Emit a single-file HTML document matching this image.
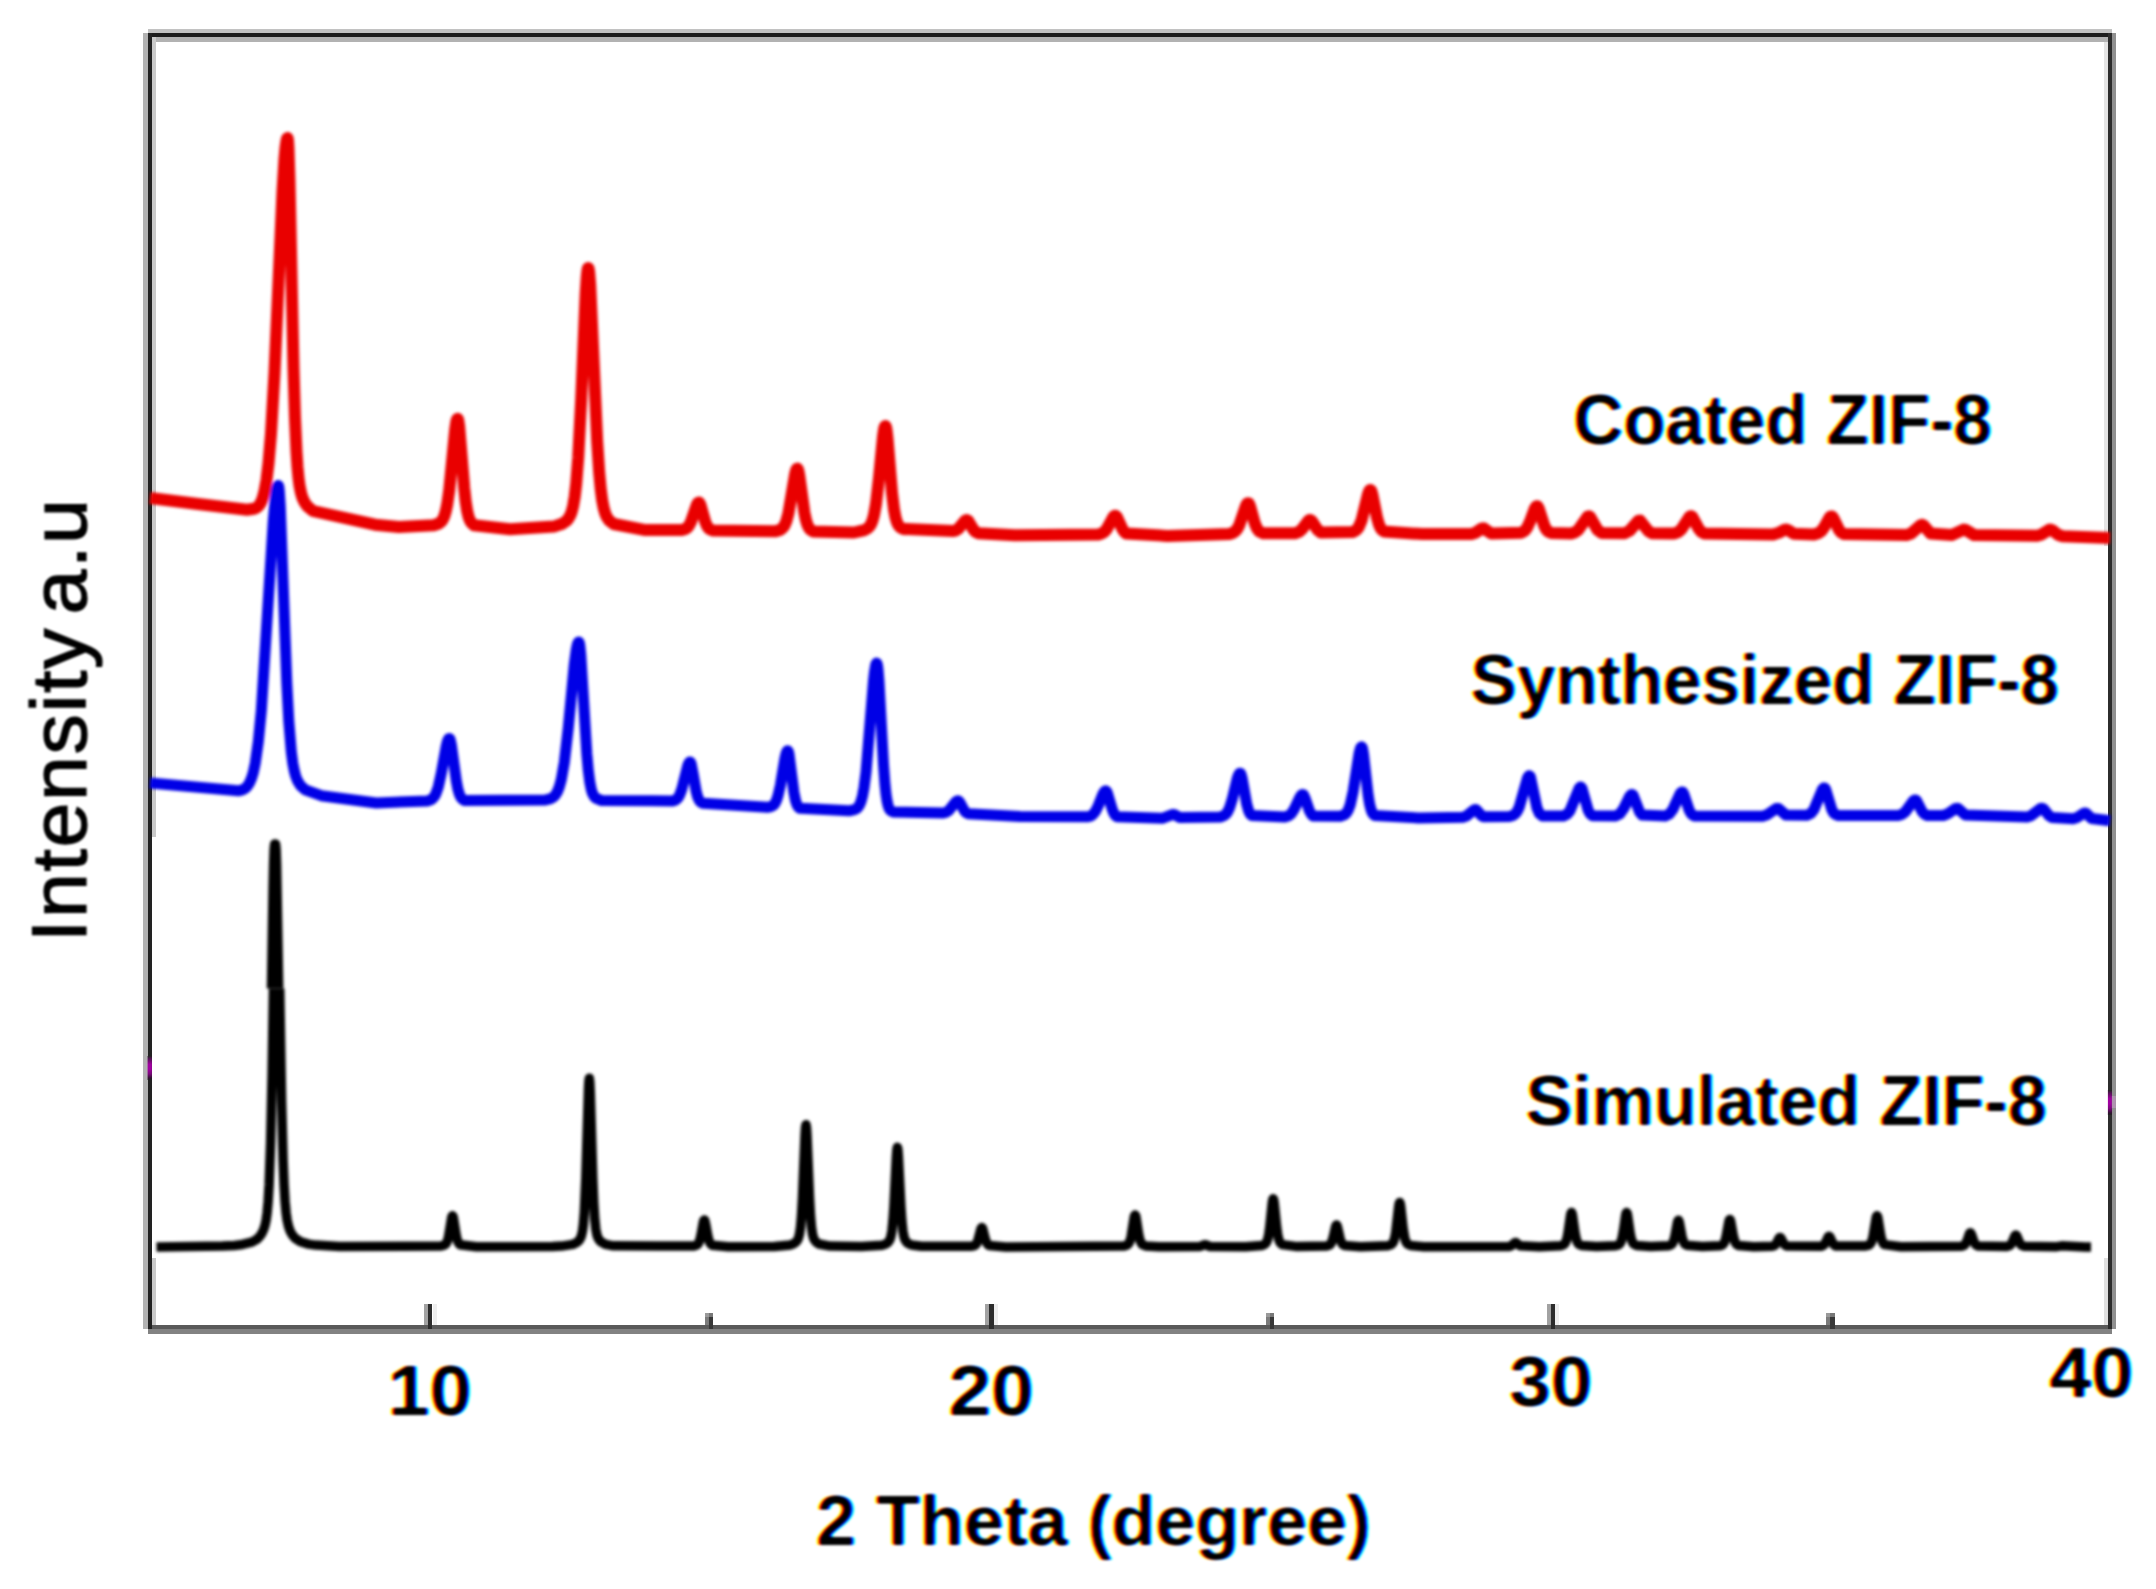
<!DOCTYPE html>
<html lang="en">
<head>
<meta charset="utf-8">
<title>XRD patterns of ZIF-8</title>
<style>
html,body{margin:0;padding:0;background:#fff;}
body{width:2156px;height:1589px;overflow:hidden;}
svg{display:block;}
text{font-family:"Liberation Sans",Arial,Helvetica,sans-serif;fill:#000;}
.b{font-weight:700;}
</style>
</head>
<body>
<svg width="2156" height="1589" viewBox="0 0 2156 1589">
<defs>
<filter id="soft" x="-2%" y="-2%" width="104%" height="104%"><feGaussianBlur stdDeviation="1.5"/></filter>
<filter id="softt" x="-5%" y="-20%" width="110%" height="140%"><feGaussianBlur stdDeviation="0.7"/></filter>
<filter id="ct" x="-3%" y="-25%" width="106%" height="150%" color-interpolation-filters="sRGB">
<feGaussianBlur in="SourceAlpha" stdDeviation="1.2" result="b"/>
<feComponentTransfer in="b" result="a"><feFuncA type="linear" slope="2.2" intercept="-0.6"/></feComponentTransfer>
<feOffset in="a" dx="1.9" dy="0" result="aR"/>
<feOffset in="a" dx="-1.9" dy="0" result="aB"/>
<feColorMatrix in="aR" type="matrix" values="0 0 0 0 0  0 0 0 0 1  0 0 0 0 1  0 0 0 1 0" result="cy"/>
<feColorMatrix in="a" type="matrix" values="0 0 0 0 1  0 0 0 0 0  0 0 0 0 1  0 0 0 1 0" result="mg"/>
<feColorMatrix in="aB" type="matrix" values="0 0 0 0 1  0 0 0 0 1  0 0 0 0 0  0 0 0 1 0" result="yl"/>
<feBlend mode="multiply" in="cy" in2="mg" result="cm"/>
<feBlend mode="multiply" in="cm" in2="yl" result="cmy"/>
<feGaussianBlur in="cmy" stdDeviation="1.1 0.8"/>
</filter>
<filter id="softy" x="-20%" y="-5%" width="140%" height="110%"><feGaussianBlur stdDeviation="1.3"/></filter>
<linearGradient id="mg1" x1="0" y1="0" x2="0" y2="1"><stop offset="0" stop-color="#222"/><stop offset="0.12" stop-color="#551055"/><stop offset="0.35" stop-color="#a000a0"/><stop offset="0.55" stop-color="#a000a0"/><stop offset="0.75" stop-color="#7a087a"/><stop offset="0.92" stop-color="#301030"/><stop offset="1" stop-color="#222"/></linearGradient>
<clipPath id="cu"><rect x="0" y="0" width="2156" height="988.5"/></clipPath>
<clipPath id="cl"><rect x="0" y="988.5" width="2156" height="600"/></clipPath>
</defs>
<rect x="0" y="0" width="2156" height="1589" fill="#fff"/>

<!-- frame -->
<g shape-rendering="crispEdges">
<rect x="147.6" y="29" width="1964.3" height="4.2" fill="#c2c2c2"/>
<rect x="152" y="37" width="1956" height="4.8" fill="#b2b2b2"/>
<rect x="143.4" y="33.2" width="4.2" height="1296.2" fill="#b2b2b2"/>
<rect x="151.9" y="37" width="3.9" height="800" fill="#cacaca"/><rect x="151.9" y="1258" width="3.9" height="67" fill="#cacaca"/>
<rect x="2103.6" y="41.8" width="4.3" height="504" fill="#e4e4e4"/><rect x="2103.6" y="1258" width="4.3" height="67" fill="#e0e0e0"/>
<rect x="2111.9" y="33.2" width="4" height="1296" fill="#909090"/>
<rect x="147.6" y="1329.4" width="1964.3" height="4.2" fill="#828282"/>
<rect x="147.6" y="1325.1" width="1964.3" height="4.3" fill="#5a5a5a"/>
<rect x="147.6" y="33.2" width="1964.3" height="3.9" fill="#1c1c1c"/>
<rect x="147.6" y="33.2" width="4.3" height="1296.2" fill="#222"/>
<rect x="2107.9" y="33.2" width="4" height="1296.2" fill="#2c2c2c"/>
</g>
<!-- curves -->
<g fill="none" stroke-linejoin="round" stroke-linecap="butt" filter="url(#soft)">
<path stroke="#e90000" stroke-width="12" d="M150.0 498.0 L198.0 504.0 L247.0 509.7 L254.0 508.8 L256.5 507.7 L258.5 506.0 L260.0 504.1 L261.5 501.2 L263.0 497.1 L264.5 491.3 L266.5 480.0 L268.5 463.5 L271.0 433.8 L274.5 373.0 L282.5 191.8 L284.5 158.9 L285.5 147.7 L286.5 140.7 L287.0 138.8 L287.5 138.0 L288.0 140.1 L288.5 148.4 L289.5 180.8 L293.5 367.7 L295.0 417.9 L296.5 451.8 L297.5 467.0 L298.5 477.8 L299.5 485.5 L301.0 493.0 L302.5 497.9 L304.5 502.2 L307.5 506.4 L313.0 511.0 L375.0 524.7 L399.0 526.9 L433.7 525.3 L438.2 523.8 L441.2 521.6 L442.7 519.6 L444.2 516.5 L445.7 511.6 L447.2 504.5 L449.2 490.7 L455.2 429.4 L456.2 422.4 L456.7 420.2 L457.2 419.0 L457.7 418.8 L458.2 419.9 L459.2 426.4 L464.2 487.8 L465.7 501.6 L467.2 511.1 L468.7 517.3 L470.2 521.0 L471.7 523.2 L474.2 525.3 L510.0 529.2 L553.7 526.6 L562.2 523.8 L566.2 521.1 L568.2 518.9 L570.2 515.5 L571.7 511.6 L573.2 505.6 L574.7 496.7 L576.2 483.7 L578.2 458.1 L581.2 399.5 L585.7 293.2 L586.7 277.6 L587.2 272.3 L587.7 269.1 L588.0 268.2 L588.2 268.0 L588.7 269.1 L589.2 272.3 L590.2 284.7 L597.2 441.4 L599.2 472.4 L600.7 488.8 L602.2 500.4 L603.7 508.2 L605.2 513.4 L606.7 516.9 L609.2 520.5 L613.7 524.0 L644.2 529.9 L681.8 529.9 L685.3 528.9 L687.3 527.6 L688.8 525.8 L690.8 522.2 L696.8 504.9 L697.8 503.1 L698.3 502.7 L699.0 502.5 L699.3 502.7 L699.8 503.4 L700.8 506.0 L705.3 522.0 L706.8 525.5 L708.3 527.9 L709.8 529.2 L713.3 530.6 L774.9 531.3 L779.4 530.2 L781.4 529.1 L783.4 527.1 L784.9 524.6 L786.4 520.9 L788.4 513.5 L795.0 474.7 L795.9 470.9 L796.4 469.6 L796.9 468.9 L797.4 468.7 L798.0 469.6 L798.4 471.0 L799.4 476.2 L804.4 512.6 L805.9 519.8 L807.4 524.7 L808.9 527.8 L810.4 529.7 L813.4 531.5 L854.0 532.5 L864.5 530.1 L867.5 528.4 L869.5 526.5 L871.0 524.1 L872.5 520.5 L874.0 515.0 L876.0 503.9 L879.0 478.0 L883.0 436.6 L884.0 429.7 L884.5 427.5 L885.0 426.3 L885.5 426.1 L886.0 427.2 L886.5 429.7 L887.5 438.2 L892.0 492.7 L894.0 509.4 L895.5 517.4 L897.0 522.4 L898.5 525.4 L900.0 527.1 L903.0 528.9 L952.8 531.1 L955.8 530.4 L958.3 528.8 L964.8 521.0 L966.0 520.1 L966.8 520.0 L967.3 520.2 L968.3 521.0 L973.3 529.4 L975.3 531.6 L978.3 533.2 L1014.8 535.3 L1098.4 534.5 L1101.9 533.4 L1104.4 531.7 L1107.0 528.7 L1113.0 517.6 L1113.9 516.4 L1114.9 515.7 L1115.4 515.7 L1116.0 516.0 L1116.9 517.1 L1122.4 529.1 L1124.4 531.9 L1126.4 533.6 L1167.4 535.9 L1229.2 534.0 L1233.2 532.7 L1235.2 531.3 L1237.2 529.0 L1239.2 525.4 L1245.7 506.4 L1246.7 504.3 L1247.2 503.7 L1248.0 503.2 L1248.2 503.2 L1248.7 503.5 L1249.2 504.3 L1250.2 506.8 L1254.7 523.0 L1257.2 528.8 L1259.3 531.4 L1263.3 533.3 L1294.8 533.3 L1299.3 531.6 L1302.3 528.8 L1308.3 520.9 L1309.3 520.2 L1310.3 520.0 L1311.3 520.5 L1312.8 522.4 L1317.3 529.5 L1321.0 532.5 L1352.5 532.1 L1356.0 530.4 L1358.5 527.5 L1361.5 520.6 L1368.0 494.3 L1369.0 491.5 L1369.5 490.6 L1370.0 490.1 L1370.5 490.0 L1371.0 490.5 L1371.5 491.5 L1372.5 495.1 L1377.0 517.7 L1379.0 524.6 L1380.5 527.9 L1382.0 530.0 L1384.0 531.5 L1422.5 534.1 L1471.4 534.0 L1475.4 532.8 L1481.4 528.7 L1482.9 528.3 L1483.9 528.5 L1491.4 533.6 L1521.4 532.7 L1524.9 530.6 L1527.1 527.7 L1530.1 521.3 L1534.6 509.0 L1536.1 506.6 L1536.6 506.3 L1537.1 506.2 L1537.6 506.5 L1538.6 508.2 L1544.1 525.2 L1546.1 529.2 L1548.1 531.5 L1551.1 532.9 L1571.1 533.4 L1575.1 532.2 L1578.1 530.1 L1587.6 516.6 L1589.1 516.3 L1590.1 516.9 L1597.6 530.0 L1601.6 532.9 L1624.6 533.3 L1629.6 530.7 L1638.4 520.8 L1640.1 520.6 L1648.4 531.1 L1651.9 533.2 L1674.4 533.5 L1678.4 531.9 L1681.4 529.2 L1689.4 517.0 L1690.4 516.3 L1691.4 516.3 L1692.4 517.0 L1698.8 528.9 L1701.3 531.8 L1704.3 533.5 L1773.1 534.5 L1779.1 532.6 L1784.1 530.0 L1786.1 529.6 L1788.1 530.2 L1794.1 533.8 L1814.1 534.4 L1818.1 533.3 L1821.1 531.3 L1824.1 527.3 L1829.1 518.3 L1830.1 517.0 L1831.1 516.4 L1831.6 516.4 L1832.1 516.6 L1833.1 517.7 L1839.1 530.0 L1841.1 532.4 L1843.6 533.9 L1906.6 535.0 L1911.1 533.6 L1920.6 525.2 L1922.1 524.8 L1923.6 525.6 L1930.6 533.4 L1952.1 534.9 L1963.6 529.6 L1965.6 529.9 L1974.1 535.0 L2037.1 535.7 L2041.6 534.4 L2049.1 529.8 L2050.6 529.6 L2052.1 530.1 L2058.1 534.7 L2062.6 536.2 L2110.0 538.0"/>
<path stroke="#0000e6" stroke-width="11" d="M150.0 783.0 L238.3 790.8 L242.3 789.9 L245.3 788.2 L247.3 786.3 L249.3 783.3 L251.3 778.8 L253.3 772.3 L255.3 762.8 L258.3 741.8 L261.3 710.8 L273.3 520.8 L275.3 498.8 L276.3 491.4 L276.8 488.8 L277.3 487.0 L277.8 485.9 L278.3 485.5 L278.8 486.9 L279.3 491.1 L280.3 506.9 L286.8 683.1 L288.8 721.2 L291.3 751.8 L292.8 763.2 L294.3 771.0 L295.8 776.5 L297.8 781.3 L300.8 785.9 L305.3 789.9 L321.3 795.7 L376.3 803.0 L427.3 800.9 L430.8 799.8 L432.8 798.3 L434.3 796.5 L435.8 793.8 L438.3 786.8 L441.3 773.3 L446.3 745.8 L447.3 741.9 L448.3 739.4 L448.8 738.7 L449.3 738.5 L449.8 738.9 L450.3 740.1 L451.3 744.6 L456.3 780.8 L457.8 788.7 L459.3 794.0 L460.8 797.3 L462.3 799.1 L464.3 800.4 L545.3 800.0 L550.8 798.6 L553.3 797.1 L555.3 795.1 L557.3 791.9 L559.3 786.9 L561.3 779.5 L564.3 762.5 L568.3 727.6 L574.3 664.3 L576.3 649.3 L577.3 644.7 L577.8 643.2 L578.3 642.3 L578.8 642.0 L579.0 642.1 L579.3 642.9 L579.8 645.4 L580.8 655.0 L586.8 753.4 L588.3 770.4 L589.8 782.1 L591.3 789.6 L592.3 792.9 L594.3 796.7 L595.8 798.2 L601.8 800.6 L672.7 800.9 L675.2 800.2 L676.7 799.2 L678.2 797.5 L679.7 794.8 L681.7 789.5 L687.7 765.8 L688.7 763.3 L689.2 762.5 L689.7 762.1 L690.2 762.1 L690.7 762.7 L691.2 764.1 L693.2 774.4 L696.2 791.5 L697.7 797.0 L699.2 800.3 L700.7 802.0 L702.7 803.2 L767.4 807.3 L771.4 806.4 L773.4 805.2 L774.9 803.4 L776.4 800.5 L777.9 796.1 L780.4 785.1 L784.9 758.5 L786.0 753.7 L786.9 751.4 L787.4 750.8 L787.9 750.8 L788.4 751.7 L789.0 754.3 L793.9 792.2 L795.4 799.9 L796.4 803.3 L797.4 805.6 L798.4 807.0 L799.9 808.3 L849.0 810.8 L854.5 809.7 L856.5 808.7 L858.0 807.3 L859.5 805.0 L861.0 801.4 L862.5 795.8 L864.0 787.8 L866.0 772.2 L873.5 680.9 L874.5 671.9 L875.5 665.8 L876.0 664.0 L876.5 663.2 L877.0 663.4 L877.5 665.5 L878.0 669.3 L879.0 681.7 L883.5 764.5 L885.0 784.6 L886.0 794.1 L887.0 800.8 L888.0 805.3 L889.0 808.2 L890.0 809.9 L891.0 810.9 L893.0 811.9 L943.2 813.0 L946.2 812.2 L948.7 810.6 L955.7 802.0 L957.2 800.9 L958.2 800.8 L958.7 801.0 L960.2 803.0 L964.2 810.5 L966.2 812.7 L968.2 813.8 L1020.0 816.6 L1087.8 816.8 L1090.8 815.9 L1092.8 814.6 L1095.3 811.6 L1098.3 805.6 L1102.8 794.3 L1104.3 791.7 L1105.3 790.9 L1105.8 790.8 L1106.3 791.0 L1107.3 792.7 L1112.3 809.5 L1113.8 813.1 L1115.3 815.4 L1116.8 816.7 L1162.2 818.3 L1172.2 814.6 L1173.7 814.5 L1175.2 815.0 L1179.7 817.6 L1220.1 817.0 L1224.1 815.6 L1226.1 813.9 L1227.6 811.9 L1229.6 807.7 L1232.1 799.7 L1237.1 779.0 L1238.1 775.9 L1239.1 773.9 L1239.6 773.4 L1240.1 773.2 L1240.6 773.5 L1241.1 774.6 L1242.1 778.3 L1246.7 804.0 L1248.7 811.0 L1250.2 814.0 L1251.7 815.6 L1284.7 817.1 L1288.7 815.8 L1291.2 813.8 L1294.2 809.3 L1299.7 797.5 L1301.2 795.3 L1302.2 794.6 L1302.7 794.5 L1303.2 794.7 L1303.7 795.2 L1305.2 798.5 L1309.2 810.3 L1311.2 814.0 L1313.2 816.0 L1340.2 816.3 L1344.2 814.9 L1346.2 813.3 L1348.2 810.1 L1350.2 804.8 L1353.2 791.2 L1359.1 753.4 L1360.1 749.4 L1360.6 748.0 L1361.1 747.2 L1361.6 746.9 L1362.1 747.4 L1362.6 749.0 L1363.6 755.0 L1368.1 795.0 L1369.6 804.1 L1371.1 809.9 L1372.1 812.4 L1373.1 814.0 L1374.6 815.4 L1419.0 818.0 L1462.8 817.3 L1466.3 816.1 L1473.9 810.0 L1475.4 809.5 L1476.4 809.8 L1481.4 815.5 L1483.4 816.7 L1509.9 816.4 L1513.4 815.2 L1515.4 813.7 L1517.4 811.0 L1519.4 806.6 L1527.4 778.2 L1528.4 776.4 L1529.2 775.7 L1529.7 775.8 L1530.4 777.0 L1536.9 807.7 L1539.4 813.5 L1542.4 815.9 L1563.4 816.0 L1566.9 814.3 L1569.9 810.8 L1579.2 788.1 L1580.5 787.0 L1581.0 787.1 L1582.0 788.5 L1588.2 810.3 L1590.2 813.9 L1592.7 815.8 L1615.7 816.0 L1619.7 813.9 L1623.7 808.5 L1629.7 796.3 L1631.2 794.7 L1632.2 794.5 L1633.2 795.5 L1639.7 812.2 L1642.2 815.1 L1665.2 816.0 L1669.2 814.1 L1672.7 809.7 L1680.2 793.5 L1681.7 792.1 L1682.2 792.0 L1682.7 792.2 L1683.7 793.7 L1689.2 810.2 L1690.7 813.0 L1692.2 814.8 L1694.2 815.9 L1762.6 816.2 L1767.1 814.8 L1776.3 808.5 L1778.3 808.4 L1785.8 815.0 L1807.3 815.2 L1810.8 813.4 L1813.8 809.8 L1822.3 789.6 L1823.8 788.0 L1824.3 787.9 L1824.8 788.1 L1825.8 789.8 L1831.8 809.7 L1833.8 813.1 L1835.3 814.4 L1838.3 815.5 L1898.2 815.4 L1902.2 814.2 L1905.2 811.9 L1913.2 800.9 L1914.7 800.0 L1915.7 800.0 L1916.7 801.0 L1922.2 811.7 L1924.2 814.0 L1927.2 815.4 L1943.2 815.5 L1948.2 813.6 L1955.2 808.7 L1957.2 808.3 L1958.2 808.6 L1965.2 814.9 L2027.1 816.9 L2031.1 815.7 L2040.1 808.8 L2041.6 808.3 L2042.6 808.4 L2043.6 809.0 L2049.1 815.7 L2052.1 817.6 L2073.1 818.7 L2077.1 817.5 L2083.6 813.3 L2085.1 813.0 L2086.1 813.3 L2091.6 818.5 L2110.0 820.7"/>
<g clip-path="url(#cl)"><path stroke="#000" stroke-width="9.5" d="M156.5 1247.0 L222.5 1246.1 L234.5 1245.4 L240.5 1244.8 L252.6 1241.8 L257.1 1239.1 L260.1 1236.0 L262.1 1232.9 L263.6 1229.6 L265.1 1224.8 L266.1 1220.0 L267.1 1212.8 L268.1 1201.9 L269.1 1185.0 L270.6 1142.9 L272.1 1074.5 L275.1 887.9 L275.6 864.7 L276.1 849.6 L276.6 844.4 L277.1 849.6 L277.6 864.7 L281.6 1100.4 L283.1 1159.6 L284.1 1185.0 L285.1 1201.9 L286.1 1212.8 L287.1 1220.0 L288.6 1226.7 L290.1 1230.9 L292.1 1234.6 L295.1 1238.2 L300.6 1241.8 L308.6 1244.1 L315.5 1245.1 L339.5 1246.4 L441.0 1246.0 L444.0 1245.2 L445.5 1244.3 L446.5 1242.9 L447.5 1240.6 L448.5 1236.8 L451.5 1218.5 L452.0 1216.5 L452.5 1215.8 L453.0 1216.5 L453.5 1218.5 L456.0 1234.3 L457.0 1238.9 L458.0 1241.9 L459.0 1243.7 L460.0 1244.7 L476.5 1246.8 L552.5 1246.6 L561.5 1246.1 L572.8 1244.4 L576.8 1242.5 L578.8 1240.7 L580.3 1238.5 L581.3 1236.1 L582.5 1231.0 L583.3 1225.0 L584.3 1212.5 L585.8 1178.5 L588.5 1088.0 L588.8 1082.2 L589.3 1078.3 L589.8 1082.2 L590.3 1093.0 L592.8 1178.5 L593.8 1203.4 L594.8 1219.6 L595.8 1229.0 L596.8 1234.4 L597.8 1237.4 L599.3 1240.1 L601.3 1242.1 L605.8 1244.4 L613.3 1245.8 L693.8 1246.0 L696.8 1245.0 L697.8 1244.1 L698.8 1242.6 L699.8 1240.0 L700.8 1236.0 L703.3 1222.3 L703.8 1220.6 L704.3 1219.9 L704.8 1220.6 L705.8 1224.8 L707.8 1236.0 L708.8 1240.0 L709.8 1242.6 L710.8 1244.1 L712.3 1245.3 L728.3 1246.8 L774.5 1246.5 L790.5 1244.9 L794.0 1243.5 L796.0 1242.0 L797.5 1240.1 L798.5 1237.8 L799.5 1234.0 L800.5 1227.1 L801.5 1215.4 L802.5 1197.4 L805.0 1135.4 L805.5 1127.6 L806.0 1124.8 L806.5 1127.6 L807.0 1135.4 L809.5 1197.3 L810.5 1215.4 L811.5 1227.1 L812.5 1234.0 L813.5 1237.8 L814.5 1240.0 L816.0 1242.0 L819.0 1244.0 L830.0 1246.1 L861.5 1246.6 L881.9 1245.2 L885.9 1243.9 L887.9 1242.5 L888.9 1241.3 L889.9 1239.5 L890.9 1236.4 L891.9 1230.8 L892.9 1221.2 L893.9 1206.5 L896.4 1156.0 L896.9 1149.6 L897.4 1147.3 L897.9 1149.6 L898.4 1156.0 L900.9 1206.5 L901.9 1221.2 L902.9 1230.8 L903.9 1236.4 L904.9 1239.5 L905.9 1241.3 L907.4 1242.9 L911.4 1244.9 L921.5 1246.3 L971.8 1246.2 L974.3 1245.6 L975.8 1244.5 L976.8 1243.0 L977.8 1240.7 L980.8 1229.2 L981.5 1227.7 L981.8 1227.6 L982.3 1228.0 L982.8 1229.2 L985.3 1239.1 L986.3 1242.0 L987.8 1244.5 L989.3 1245.6 L1005.8 1246.9 L1123.6 1246.1 L1126.6 1245.2 L1128.1 1244.2 L1129.1 1242.9 L1130.1 1240.5 L1131.1 1236.6 L1134.1 1217.7 L1134.6 1215.7 L1135.1 1215.0 L1135.6 1215.7 L1136.1 1217.7 L1138.6 1234.0 L1139.6 1238.8 L1140.6 1241.8 L1141.6 1243.6 L1142.6 1244.7 L1145.6 1245.9 L1159.1 1246.8 L1199.5 1246.6 L1204.5 1244.8 L1205.5 1244.8 L1210.0 1246.5 L1245.5 1246.8 L1261.7 1245.5 L1264.2 1244.6 L1265.7 1243.4 L1266.7 1241.9 L1267.7 1239.2 L1268.7 1234.5 L1269.7 1227.4 L1272.2 1203.0 L1272.7 1199.9 L1273.2 1198.8 L1273.7 1199.9 L1274.2 1203.0 L1276.7 1227.4 L1277.7 1234.5 L1278.7 1239.2 L1279.7 1241.9 L1280.7 1243.4 L1282.2 1244.6 L1297.2 1246.6 L1326.5 1246.1 L1329.0 1245.3 L1330.0 1244.6 L1331.0 1243.4 L1332.0 1241.3 L1333.5 1236.0 L1335.5 1227.0 L1336.0 1225.6 L1336.5 1225.0 L1337.0 1225.6 L1337.5 1227.0 L1340.0 1238.1 L1341.0 1241.3 L1342.0 1243.4 L1343.0 1244.6 L1344.5 1245.5 L1360.5 1246.8 L1387.7 1245.7 L1390.7 1244.8 L1392.7 1243.1 L1393.7 1241.2 L1394.7 1237.9 L1395.7 1232.5 L1398.7 1206.3 L1399.2 1203.5 L1399.7 1202.4 L1400.2 1203.5 L1400.7 1206.3 L1403.2 1228.9 L1404.7 1237.9 L1405.7 1241.2 L1406.7 1243.1 L1407.7 1244.1 L1410.7 1245.5 L1423.7 1246.7 L1509.1 1246.5 L1511.1 1245.8 L1514.6 1242.9 L1515.6 1242.5 L1516.1 1242.7 L1520.1 1245.8 L1539.6 1246.8 L1560.5 1245.8 L1563.0 1245.0 L1564.0 1244.4 L1565.0 1243.3 L1566.0 1241.4 L1567.0 1238.1 L1568.0 1233.0 L1570.5 1215.5 L1571.0 1213.2 L1571.5 1212.4 L1572.0 1213.2 L1572.5 1215.5 L1575.0 1232.9 L1576.0 1238.0 L1577.0 1241.3 L1578.0 1243.3 L1579.0 1244.4 L1581.5 1245.5 L1596.5 1246.6 L1615.6 1245.7 L1618.1 1245.0 L1619.1 1244.3 L1620.1 1243.3 L1621.1 1241.3 L1622.1 1238.0 L1623.6 1229.7 L1625.6 1215.5 L1626.1 1213.2 L1626.6 1212.5 L1627.1 1213.2 L1627.6 1215.5 L1630.1 1232.9 L1631.1 1238.0 L1632.1 1241.3 L1633.1 1243.2 L1634.1 1244.3 L1636.6 1245.5 L1650.6 1246.6 L1668.9 1245.7 L1670.9 1244.9 L1671.9 1244.1 L1672.9 1242.6 L1673.9 1240.0 L1674.9 1236.1 L1677.5 1222.2 L1677.9 1220.9 L1678.4 1220.2 L1678.9 1220.9 L1679.4 1222.6 L1681.9 1236.1 L1682.9 1240.0 L1683.9 1242.6 L1684.9 1244.1 L1686.5 1245.2 L1702.4 1246.6 L1719.8 1245.8 L1721.8 1245.2 L1722.8 1244.5 L1723.8 1243.3 L1724.8 1241.3 L1725.8 1238.0 L1728.8 1221.8 L1729.3 1220.1 L1729.8 1219.5 L1730.3 1220.1 L1730.8 1221.8 L1733.3 1235.8 L1734.8 1241.3 L1735.8 1243.4 L1736.8 1244.5 L1738.8 1245.6 L1753.8 1246.7 L1772.0 1246.3 L1774.0 1245.7 L1775.0 1245.0 L1776.5 1243.1 L1779.0 1238.3 L1779.5 1237.7 L1780.0 1237.5 L1780.5 1237.7 L1781.5 1239.2 L1783.5 1243.1 L1785.0 1245.0 L1786.5 1245.9 L1820.5 1246.3 L1822.5 1245.8 L1823.5 1245.2 L1824.5 1244.2 L1826.0 1241.6 L1828.0 1237.2 L1828.5 1236.5 L1829.0 1236.2 L1829.5 1236.5 L1830.5 1238.2 L1832.5 1242.6 L1833.5 1244.2 L1834.5 1245.2 L1836.0 1246.0 L1865.5 1246.0 L1868.5 1245.2 L1870.0 1244.2 L1871.0 1242.9 L1872.0 1240.6 L1873.0 1236.8 L1876.0 1218.5 L1876.5 1216.5 L1877.0 1215.8 L1877.5 1216.5 L1878.0 1218.5 L1880.5 1234.3 L1881.5 1238.9 L1882.5 1241.9 L1883.5 1243.7 L1884.5 1244.6 L1901.0 1246.8 L1961.3 1246.3 L1963.3 1245.7 L1964.3 1245.1 L1965.8 1243.3 L1967.3 1239.9 L1969.3 1234.0 L1969.8 1233.1 L1970.3 1232.8 L1970.8 1233.1 L1971.8 1235.3 L1973.8 1241.2 L1974.8 1243.3 L1975.8 1244.7 L1977.8 1245.9 L2006.8 1246.4 L2009.3 1245.7 L2010.8 1244.5 L2011.8 1243.1 L2014.8 1236.1 L2015.3 1235.3 L2015.8 1235.0 L2016.3 1235.3 L2016.8 1236.1 L2019.8 1243.1 L2020.8 1244.5 L2021.8 1245.4 L2024.3 1246.3 L2056.7 1246.7 L2061.7 1245.8 L2085.5 1247.0 L2091.0 1247.0"/></g>
<g clip-path="url(#cu)"><path stroke="#000" stroke-width="10.5" transform="translate(-1.5,0)" d="M156.5 1247.0 L222.5 1246.1 L234.5 1245.4 L240.5 1244.8 L252.6 1241.8 L257.1 1239.1 L260.1 1236.0 L262.1 1232.9 L263.6 1229.6 L265.1 1224.8 L266.1 1220.0 L267.1 1212.8 L268.1 1201.9 L269.1 1185.0 L270.6 1142.9 L272.1 1074.5 L275.1 887.9 L275.6 864.7 L276.1 849.6 L276.6 844.4 L277.1 849.6 L277.6 864.7 L281.6 1100.4 L283.1 1159.6 L284.1 1185.0 L285.1 1201.9 L286.1 1212.8 L287.1 1220.0 L288.6 1226.7 L290.1 1230.9 L292.1 1234.6 L295.1 1238.2 L300.6 1241.8 L308.6 1244.1 L315.5 1245.1 L339.5 1246.4 L441.0 1246.0 L444.0 1245.2 L445.5 1244.3 L446.5 1242.9 L447.5 1240.6 L448.5 1236.8 L451.5 1218.5 L452.0 1216.5 L452.5 1215.8 L453.0 1216.5 L453.5 1218.5 L456.0 1234.3 L457.0 1238.9 L458.0 1241.9 L459.0 1243.7 L460.0 1244.7 L476.5 1246.8 L552.5 1246.6 L561.5 1246.1 L572.8 1244.4 L576.8 1242.5 L578.8 1240.7 L580.3 1238.5 L581.3 1236.1 L582.5 1231.0 L583.3 1225.0 L584.3 1212.5 L585.8 1178.5 L588.5 1088.0 L588.8 1082.2 L589.3 1078.3 L589.8 1082.2 L590.3 1093.0 L592.8 1178.5 L593.8 1203.4 L594.8 1219.6 L595.8 1229.0 L596.8 1234.4 L597.8 1237.4 L599.3 1240.1 L601.3 1242.1 L605.8 1244.4 L613.3 1245.8 L693.8 1246.0 L696.8 1245.0 L697.8 1244.1 L698.8 1242.6 L699.8 1240.0 L700.8 1236.0 L703.3 1222.3 L703.8 1220.6 L704.3 1219.9 L704.8 1220.6 L705.8 1224.8 L707.8 1236.0 L708.8 1240.0 L709.8 1242.6 L710.8 1244.1 L712.3 1245.3 L728.3 1246.8 L774.5 1246.5 L790.5 1244.9 L794.0 1243.5 L796.0 1242.0 L797.5 1240.1 L798.5 1237.8 L799.5 1234.0 L800.5 1227.1 L801.5 1215.4 L802.5 1197.4 L805.0 1135.4 L805.5 1127.6 L806.0 1124.8 L806.5 1127.6 L807.0 1135.4 L809.5 1197.3 L810.5 1215.4 L811.5 1227.1 L812.5 1234.0 L813.5 1237.8 L814.5 1240.0 L816.0 1242.0 L819.0 1244.0 L830.0 1246.1 L861.5 1246.6 L881.9 1245.2 L885.9 1243.9 L887.9 1242.5 L888.9 1241.3 L889.9 1239.5 L890.9 1236.4 L891.9 1230.8 L892.9 1221.2 L893.9 1206.5 L896.4 1156.0 L896.9 1149.6 L897.4 1147.3 L897.9 1149.6 L898.4 1156.0 L900.9 1206.5 L901.9 1221.2 L902.9 1230.8 L903.9 1236.4 L904.9 1239.5 L905.9 1241.3 L907.4 1242.9 L911.4 1244.9 L921.5 1246.3 L971.8 1246.2 L974.3 1245.6 L975.8 1244.5 L976.8 1243.0 L977.8 1240.7 L980.8 1229.2 L981.5 1227.7 L981.8 1227.6 L982.3 1228.0 L982.8 1229.2 L985.3 1239.1 L986.3 1242.0 L987.8 1244.5 L989.3 1245.6 L1005.8 1246.9 L1123.6 1246.1 L1126.6 1245.2 L1128.1 1244.2 L1129.1 1242.9 L1130.1 1240.5 L1131.1 1236.6 L1134.1 1217.7 L1134.6 1215.7 L1135.1 1215.0 L1135.6 1215.7 L1136.1 1217.7 L1138.6 1234.0 L1139.6 1238.8 L1140.6 1241.8 L1141.6 1243.6 L1142.6 1244.7 L1145.6 1245.9 L1159.1 1246.8 L1199.5 1246.6 L1204.5 1244.8 L1205.5 1244.8 L1210.0 1246.5 L1245.5 1246.8 L1261.7 1245.5 L1264.2 1244.6 L1265.7 1243.4 L1266.7 1241.9 L1267.7 1239.2 L1268.7 1234.5 L1269.7 1227.4 L1272.2 1203.0 L1272.7 1199.9 L1273.2 1198.8 L1273.7 1199.9 L1274.2 1203.0 L1276.7 1227.4 L1277.7 1234.5 L1278.7 1239.2 L1279.7 1241.9 L1280.7 1243.4 L1282.2 1244.6 L1297.2 1246.6 L1326.5 1246.1 L1329.0 1245.3 L1330.0 1244.6 L1331.0 1243.4 L1332.0 1241.3 L1333.5 1236.0 L1335.5 1227.0 L1336.0 1225.6 L1336.5 1225.0 L1337.0 1225.6 L1337.5 1227.0 L1340.0 1238.1 L1341.0 1241.3 L1342.0 1243.4 L1343.0 1244.6 L1344.5 1245.5 L1360.5 1246.8 L1387.7 1245.7 L1390.7 1244.8 L1392.7 1243.1 L1393.7 1241.2 L1394.7 1237.9 L1395.7 1232.5 L1398.7 1206.3 L1399.2 1203.5 L1399.7 1202.4 L1400.2 1203.5 L1400.7 1206.3 L1403.2 1228.9 L1404.7 1237.9 L1405.7 1241.2 L1406.7 1243.1 L1407.7 1244.1 L1410.7 1245.5 L1423.7 1246.7 L1509.1 1246.5 L1511.1 1245.8 L1514.6 1242.9 L1515.6 1242.5 L1516.1 1242.7 L1520.1 1245.8 L1539.6 1246.8 L1560.5 1245.8 L1563.0 1245.0 L1564.0 1244.4 L1565.0 1243.3 L1566.0 1241.4 L1567.0 1238.1 L1568.0 1233.0 L1570.5 1215.5 L1571.0 1213.2 L1571.5 1212.4 L1572.0 1213.2 L1572.5 1215.5 L1575.0 1232.9 L1576.0 1238.0 L1577.0 1241.3 L1578.0 1243.3 L1579.0 1244.4 L1581.5 1245.5 L1596.5 1246.6 L1615.6 1245.7 L1618.1 1245.0 L1619.1 1244.3 L1620.1 1243.3 L1621.1 1241.3 L1622.1 1238.0 L1623.6 1229.7 L1625.6 1215.5 L1626.1 1213.2 L1626.6 1212.5 L1627.1 1213.2 L1627.6 1215.5 L1630.1 1232.9 L1631.1 1238.0 L1632.1 1241.3 L1633.1 1243.2 L1634.1 1244.3 L1636.6 1245.5 L1650.6 1246.6 L1668.9 1245.7 L1670.9 1244.9 L1671.9 1244.1 L1672.9 1242.6 L1673.9 1240.0 L1674.9 1236.1 L1677.5 1222.2 L1677.9 1220.9 L1678.4 1220.2 L1678.9 1220.9 L1679.4 1222.6 L1681.9 1236.1 L1682.9 1240.0 L1683.9 1242.6 L1684.9 1244.1 L1686.5 1245.2 L1702.4 1246.6 L1719.8 1245.8 L1721.8 1245.2 L1722.8 1244.5 L1723.8 1243.3 L1724.8 1241.3 L1725.8 1238.0 L1728.8 1221.8 L1729.3 1220.1 L1729.8 1219.5 L1730.3 1220.1 L1730.8 1221.8 L1733.3 1235.8 L1734.8 1241.3 L1735.8 1243.4 L1736.8 1244.5 L1738.8 1245.6 L1753.8 1246.7 L1772.0 1246.3 L1774.0 1245.7 L1775.0 1245.0 L1776.5 1243.1 L1779.0 1238.3 L1779.5 1237.7 L1780.0 1237.5 L1780.5 1237.7 L1781.5 1239.2 L1783.5 1243.1 L1785.0 1245.0 L1786.5 1245.9 L1820.5 1246.3 L1822.5 1245.8 L1823.5 1245.2 L1824.5 1244.2 L1826.0 1241.6 L1828.0 1237.2 L1828.5 1236.5 L1829.0 1236.2 L1829.5 1236.5 L1830.5 1238.2 L1832.5 1242.6 L1833.5 1244.2 L1834.5 1245.2 L1836.0 1246.0 L1865.5 1246.0 L1868.5 1245.2 L1870.0 1244.2 L1871.0 1242.9 L1872.0 1240.6 L1873.0 1236.8 L1876.0 1218.5 L1876.5 1216.5 L1877.0 1215.8 L1877.5 1216.5 L1878.0 1218.5 L1880.5 1234.3 L1881.5 1238.9 L1882.5 1241.9 L1883.5 1243.7 L1884.5 1244.6 L1901.0 1246.8 L1961.3 1246.3 L1963.3 1245.7 L1964.3 1245.1 L1965.8 1243.3 L1967.3 1239.9 L1969.3 1234.0 L1969.8 1233.1 L1970.3 1232.8 L1970.8 1233.1 L1971.8 1235.3 L1973.8 1241.2 L1974.8 1243.3 L1975.8 1244.7 L1977.8 1245.9 L2006.8 1246.4 L2009.3 1245.7 L2010.8 1244.5 L2011.8 1243.1 L2014.8 1236.1 L2015.3 1235.3 L2015.8 1235.0 L2016.3 1235.3 L2016.8 1236.1 L2019.8 1243.1 L2020.8 1244.5 L2021.8 1245.4 L2024.3 1246.3 L2056.7 1246.7 L2061.7 1245.8 L2085.5 1247.0 L2091.0 1247.0"/></g>
</g>

<!-- ticks -->
<g shape-rendering="crispEdges">
<rect x="424.1" y="1304.1" width="4.1" height="21.0" fill="#a2a2a2"/><rect x="428.2" y="1304.1" width="4.2" height="25.3" fill="#2c2c2c"/><rect x="432.9" y="1304.1" width="3.6" height="21.0" fill="#eeeeee"/>
<rect x="985.3" y="1304.1" width="4.1" height="21.0" fill="#a2a2a2"/><rect x="989.4" y="1304.1" width="4.2" height="25.3" fill="#2c2c2c"/><rect x="994.1" y="1304.1" width="3.6" height="21.0" fill="#eeeeee"/>
<rect x="1546.6" y="1304.1" width="4.1" height="21.0" fill="#a2a2a2"/><rect x="1550.7" y="1304.1" width="4.2" height="25.3" fill="#2c2c2c"/><rect x="1555.4" y="1304.1" width="3.6" height="21.0" fill="#eeeeee"/>
<rect x="704.9" y="1312.6" width="4.1" height="12.5" fill="#7c7c7c"/><rect x="709.0" y="1312.6" width="4.1" height="16.8" fill="#383838"/><rect x="704.9" y="1312.6" width="4.1" height="4.3" fill="#9a9a9a"/><rect x="709.0" y="1312.6" width="4.1" height="4.3" fill="#787878"/>
<rect x="1266.2" y="1312.6" width="4.1" height="12.5" fill="#7c7c7c"/><rect x="1270.3" y="1312.6" width="4.1" height="16.8" fill="#383838"/><rect x="1266.2" y="1312.6" width="4.1" height="4.3" fill="#9a9a9a"/><rect x="1270.3" y="1312.6" width="4.1" height="4.3" fill="#787878"/>
<rect x="1826.3" y="1312.6" width="4.1" height="12.5" fill="#7c7c7c"/><rect x="1830.4" y="1312.6" width="4.1" height="16.8" fill="#383838"/><rect x="1826.3" y="1312.6" width="4.1" height="4.3" fill="#9a9a9a"/><rect x="1830.4" y="1312.6" width="4.1" height="4.3" fill="#787878"/>
</g>
<rect x="147.6" y="1056" width="4.3" height="24" fill="url(#mg1)"/>
<rect x="2107.9" y="1090" width="4" height="25" fill="url(#mg1)"/>
<rect x="2111.9" y="1096" width="4" height="12" fill="#b094b0"/>

<!-- labels -->
<g class="b" font-size="70" filter="url(#ct)">
<g transform="translate(1573.3,444) scale(0.9869,1)"><text id="t1">Coated ZIF-8</text></g>
<g transform="translate(1470.5,704) scale(0.9886,1)"><text id="t2">Synthesized ZIF-8</text></g>
<g transform="translate(1525.4,1124.5) scale(1.0001,1)"><text id="t3">Simulated ZIF-8</text></g>
<g transform="translate(387.4,1414.5) scale(1.0811,1)"><text id="n1">10</text></g>
<g transform="translate(948.4,1414.5) scale(1.0950,1)"><text id="n2">20</text></g>
<g transform="translate(1509.2,1405.7) scale(1.0665,1)"><text id="n3">30</text></g>
<g transform="translate(2049.3,1396.8) scale(1.0790,1)"><text id="n4">40</text></g>
<g transform="translate(816.1,1545) scale(1.0260,1)"><text id="xl">2 Theta (degree)</text></g>
</g>
<g filter="url(#softy)">
<g transform="translate(85.8,942) rotate(-90) scale(1.036,1)"><text id="yl" font-size="78" stroke="#000" stroke-width="1.2" letter-spacing="1.5" word-spacing="-11" style="font-kerning:none">Intensity a.u</text></g>
</g>
</svg>
</body>
</html>
